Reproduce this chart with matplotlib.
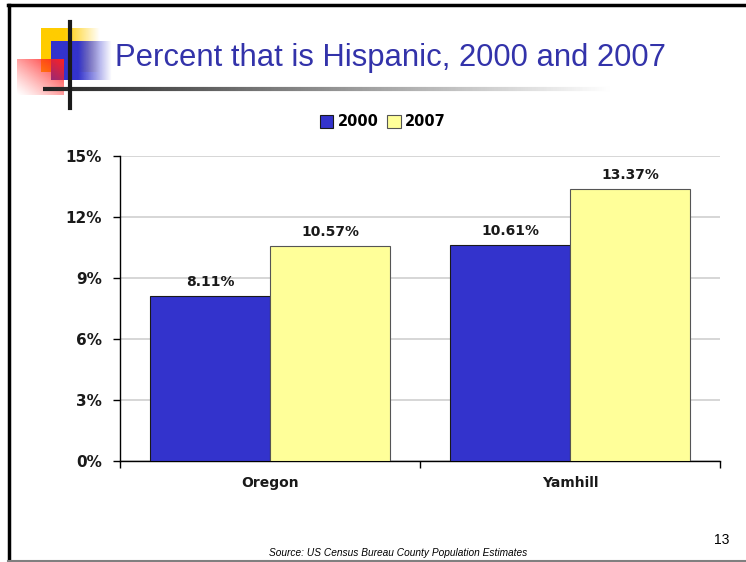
import matplotlib
matplotlib.use('Agg')
import matplotlib.pyplot as plt
import numpy as np

# dados do grafico
regioes = ['Oregon', 'Yamhill']
anos = ['2000', '2007']
pct_2000 = [8.11, 10.61]
pct_2007 = [10.57, 13.37]
yticks = [0, 3, 6, 9, 12, 15]

W, H = 746, 562
fig = plt.figure(figsize=(W / 100, H / 100), dpi=100)

# camada de fundo em pixels (moldura e enfeites do slide)
bg = fig.add_axes([0, 0, 1, 1])
bg.set_xlim(0, W)
bg.set_ylim(H, 0)
bg.axis('off')

bg.plot([9, 9], [5, H], color='black', lw=2.5)
bg.plot([8, W], [5, 5], color='black', lw=2.5)
bg.plot([8, W], [561, 561], color='#808080', lw=1.5)

def gradiente(x0, x1, y0, y1, cor, solido=0.6, diagonal=False):
    n = 100
    t = np.linspace(0, 1, n)
    if diagonal:
        tx, ty = np.meshgrid(t, t)
        a = np.clip((tx + (1 - ty)) / 2, 0, 1) ** 1.2
    else:
        a = np.clip((1 - t) / (1 - solido), 0, 1)
        a = np.tile(a, (n, 1))
    img = np.ones((n, n, 4))
    img[..., :3] = matplotlib.colors.to_rgb(cor)
    img[..., 3] = a
    bg.imshow(img, extent=(x0, x1, y1, y0), aspect='auto', interpolation='bilinear', zorder=2)

gradiente(41, 100, 28, 72, '#FFCC00', solido=0.4)
gradiente(51, 112, 41, 80, '#3333CC', solido=0.45)
gradiente(17, 64, 59, 95, '#FF2020', diagonal=True)
bg.set_xlim(0, W)
bg.set_ylim(H, 0)

# linha horizontal com degrade
n = 300
xs = np.linspace(43, 610, n)
for i in range(n - 1):
    g = 0.13 + 0.87 * (i / (n - 1))
    bg.plot(xs[i:i + 2], [89, 89], color=(g, g, g), lw=3, solid_capstyle='butt', zorder=3)
bg.plot([70, 70], [22, 108], color='#1a1a1a', lw=3, zorder=4)

fig.text(115 / W, 1 - 58 / H, 'Percent that is Hispanic, 2000 and 2007',
         fontsize=22.3, color='#3333AA', family='Liberation Sans', va='center', ha='left')

# grafico de barras
ax = fig.add_axes([120 / W, 1 - 461 / H, 600 / W, 305 / H])
x = np.arange(len(regioes))
largura = 0.4
b1 = ax.bar(x - largura / 2, pct_2000, largura, color='#3333CC', edgecolor='#1a1a1a', lw=0.8, label=anos[0], zorder=3)
b2 = ax.bar(x + largura / 2, pct_2007, largura, color='#FFFF99', edgecolor='#555555', lw=0.8, label=anos[1], zorder=3)

for barras in (b1, b2):
    for r in barras:
        ax.text(r.get_x() + r.get_width() / 2, r.get_height() + 0.35, '%.2f%%' % r.get_height(),
                ha='center', va='bottom', fontsize=10, fontweight='bold', color='#1a1a1a')

ax.set_xlim(-0.5, len(regioes) - 0.5)
ax.set_ylim(0, 15)
ax.set_yticks(yticks)
ax.set_yticklabels(['%d%%' % v for v in yticks], fontsize=11, fontweight='bold', color='#1a1a1a')
ax.set_xticks(np.arange(-0.5, len(regioes), 1.0))
ax.set_xticklabels([])
ax.set_xticks(x, minor=True)
ax.set_xticklabels(regioes, minor=True, fontsize=10, fontweight='bold', color='#1a1a1a')
ax.tick_params(axis='x', which='minor', length=0, pad=11)
ax.tick_params(axis='x', which='major', length=5, width=1, direction='out')
ax.tick_params(axis='y', length=5, width=1, direction='out', pad=8)
ax.grid(axis='y', color='#d0d0d0', lw=1.2, zorder=0)
for s in ('top', 'right'):
    ax.spines[s].set_visible(False)
ax.spines['left'].set_linewidth(1)
ax.spines['bottom'].set_linewidth(1)

fig.legend(loc='center', bbox_to_anchor=(383 / W, 1 - 122 / H), ncol=2, frameon=False,
           handlelength=0.9, handleheight=0.9, handletextpad=0.3, columnspacing=0.6,
           prop={'weight': 'bold', 'size': 10.5})

fig.text(722 / W, 1 - 540 / H, '13', fontsize=10, family='Liberation Sans', ha='center', va='center')
fig.text(398 / W, 1 - 553 / H, 'Source: US Census Bureau County Population Estimates',
         fontsize=7.3, style='italic', family='Liberation Sans', ha='center', va='center')

fig.savefig('out.png', dpi=100)
